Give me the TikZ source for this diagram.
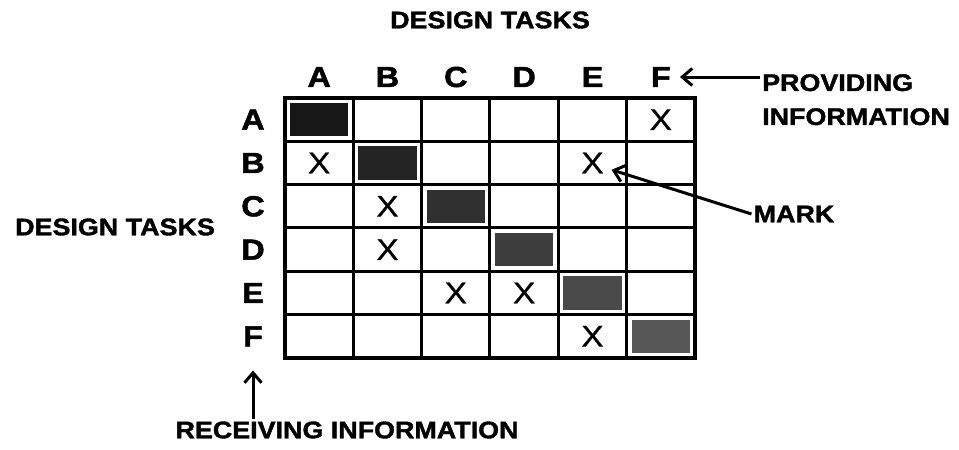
\documentclass[tikz,border=0pt]{standalone}
\usepackage{fontspec}
\newfontfamily\capsfont{Liberation Sans}[FakeStretch=1.12,BoldFeatures={FakeBold=1.6},FakeBold=0.6]
\usetikzlibrary{arrows.meta}
\tikzset{
  hdr/.style={font=\capsfont\bfseries\fontsize{24}{34}\selectfont,inner sep=2pt},
  task/.style={font=\capsfont\bfseries\fontsize{29}{30}\selectfont,inner sep=2pt},
  xmk/.style={font=\capsfont\fontsize{30}{30}\selectfont,inner sep=2pt},
  grid/.style={line width=3pt},
  frame/.style={line width=4pt},
  ar/.style={-{Straight Barb[length=10pt,width=17pt]},line width=3pt},
}
\begin{document}
\begin{tikzpicture}[x=1pt,y=-1pt]
  \useasboundingbox (0,0) rectangle (959,450);
  % task letters and shaded diagonal
  \foreach \c [count=\i, evaluate=\i as \pct using {int(96-5*\i)}] in {A,B,C,D,E,F}{
    \node[task] (col\c) at ({285+(\i-0.5)*68.33},77) {\c};
    \node[task] (row\c) at (253,{98+(\i-0.5)*43.33}) {\c};
    \fill[black!\pct] ({285+(\i-1)*68.33+5},{98+(\i-1)*43.33+5}) rectangle ++(58.33,33.33);
  }
  % matrix lines
  \foreach \k in {1,...,5}{
    \draw[grid] ({285+\k*68.33},98) -- ({285+\k*68.33},358);
    \draw[grid] (285,{98+\k*43.33}) -- (695,{98+\k*43.33});
  }
  \draw[frame] (285,98) rectangle (695,358);
  % marks
  \foreach \r/\c in {A/F,B/A,B/E,C/B,D/B,E/C,E/D,F/E}
    \node[xmk] (x\r\c) at (col\c |- row\r) {X};
  \node[hdr] (toptitle) at (490,20) {DESIGN TASKS};
  \node[hdr] (sidetitle) at (115,227) {DESIGN TASKS};
  \node[hdr,align=left,anchor=north west] (prov) at (760,72) {PROVIDING\\INFORMATION};
  \node[hdr] (marklbl) at (794,214) {MARK};
  \node[hdr] (recv) at (347,430) {RECEIVING INFORMATION};
  \draw[ar,shorten >=7pt] (prov.west |- colF) -- (colF);
  \draw[ar,shorten >=6pt] (marklbl.west) -- ([yshift=-5pt]xBE.east);
  \draw[ar,shorten >=22pt] (rowF |- recv.north) -- (rowF);
\end{tikzpicture}
\end{document}
